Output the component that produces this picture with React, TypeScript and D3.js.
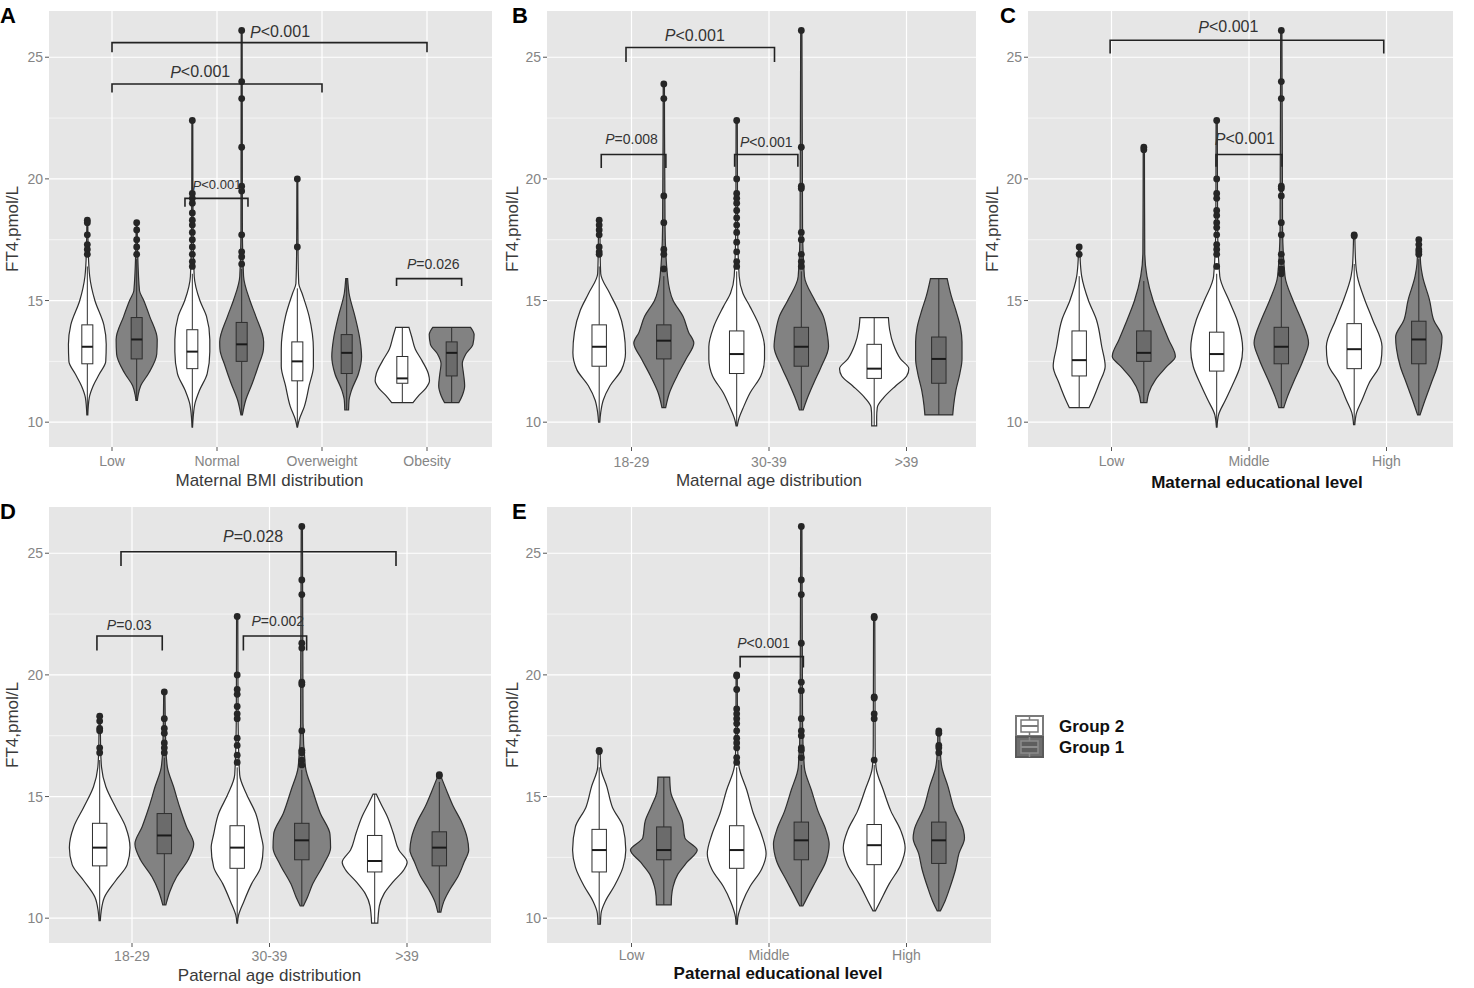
import React from 'react';
import * as d3 from 'd3';

// ---------------- DATA ----------------
const catsA = ['Low', 'Normal', 'Overweight', 'Obesity'];
const catsB = ['18-29', '30-39', '>39'];
const catsC = ['Low', 'Middle', 'High'];
const catsD = ['18-29', '30-39', '>39'];
const catsE = ['Low', 'Middle', 'High'];
const yTicks = [10, 15, 20, 25];
const yMinor = [12.5, 17.5, 22.5];
const groupNames = ['Group 2', 'Group 1'];
const yLabel = 'FT4,pmol/L';
const xTitles = ['Maternal BMI distribution', 'Maternal age distribution', 'Maternal educational level', 'Paternal age distribution', 'Paternal educational level'];
const panelLetters = ['A', 'B', 'C', 'D', 'E'];

// violin density profiles: [FT4 value, relative half-width]
const violinA2: [number, number][][] = [
  [[18.3, 0.02], [17, 0.04], [16, 0.1], [15, 0.32], [14, 0.7], [13.2, 0.8], [12.5, 0.78], [12, 0.52], [11.5, 0.25], [11, 0.08], [10.3, 0.02]],
  [[22.4, 0.02], [18, 0.03], [16, 0.08], [15, 0.32], [14.35, 0.6], [13.4, 0.74], [12.9, 0.74], [12, 0.63], [11.3, 0.3], [10.8, 0.12], [10.25, 0.04], [9.8, 0.01]],
  [[20.0, 0.02], [17, 0.03], [15.7, 0.06], [15.3, 0.2], [14.35, 0.5], [13.0, 0.68], [12.3, 0.68], [11.5, 0.5], [10.65, 0.3], [10.1, 0.08], [9.8, 0.01]],
  [[13.9, 0.28], [13.5, 0.4], [13.0, 0.55], [12.5, 0.85], [12.0, 1.1], [11.7, 1.15], [11.4, 1.0], [11.1, 0.7], [10.8, 0.45]],
];
const violinA1: [number, number][][] = [
  [[18.2, 0.02], [17, 0.04], [15.4, 0.12], [15.0, 0.3], [14.35, 0.55], [13.4, 0.87], [12.8, 0.85], [12.0, 0.5], [11.5, 0.17], [11.1, 0.06], [10.9, 0.03]],
  [[26.1, 0.02], [18, 0.03], [16, 0.08], [15, 0.35], [14.35, 0.6], [13.3, 0.93], [13.0, 0.92], [12.3, 0.7], [11.6, 0.45], [10.9, 0.17], [10.3, 0.03]],
  [[15.9, 0.04], [15.3, 0.1], [14.35, 0.35], [13.4, 0.56], [12.7, 0.63], [12.0, 0.5], [11.3, 0.2], [10.9, 0.1], [10.5, 0.08]],
  [[13.9, 0.8], [13.6, 0.95], [13.2, 0.9], [12.8, 0.6], [12.4, 0.45], [12.0, 0.5], [11.5, 0.55], [11.1, 0.45], [10.8, 0.3]],
];
const violinB2: [number, number][][] = [
  [[18.4, 0.02], [17, 0.03], [16.1, 0.05], [15.3, 0.34], [14.6, 0.61], [13.7, 0.8], [12.85, 0.85], [12.15, 0.72], [11.5, 0.35], [10.9, 0.13], [10.4, 0.05], [10.0, 0.02]],
  [[22.4, 0.02], [18, 0.03], [16, 0.08], [15.3, 0.2], [14.75, 0.43], [13.9, 0.75], [13.1, 0.9], [12.6, 0.9], [11.9, 0.78], [11.2, 0.43], [10.65, 0.23], [10.1, 0.06], [9.85, 0.02]],
  [[14.3, 0.46], [13.8, 0.5], [13.2, 0.62], [12.6, 0.85], [12.2, 1.12], [11.9, 1.05], [11.5, 0.7], [11.0, 0.3], [10.6, 0.1], [10.2, 0.08], [9.85, 0.08]],
];
const violinB1: [number, number][][] = [
  [[23.9, 0.02], [18, 0.04], [16.0, 0.12], [15.0, 0.3], [14.35, 0.62], [13.7, 0.8], [13.25, 0.97], [12.6, 0.72], [11.9, 0.43], [11.2, 0.18], [10.6, 0.06]],
  [[26.1, 0.02], [18, 0.04], [16, 0.1], [15, 0.44], [14.35, 0.71], [13.7, 0.83], [13.1, 0.88], [12.3, 0.65], [11.6, 0.4], [10.9, 0.17], [10.5, 0.06]],
  [[15.9, 0.27], [15.2, 0.4], [14.6, 0.55], [13.9, 0.7], [13.3, 0.75], [12.6, 0.75], [12.0, 0.68], [11.3, 0.55], [10.7, 0.48], [10.3, 0.45]],
];
const violinC2: [number, number][][] = [
  [[17.2, 0.02], [16.5, 0.04], [16, 0.08], [15, 0.3], [14.2, 0.56], [13.1, 0.73], [12.3, 0.84], [11.6, 0.65], [10.9, 0.43], [10.6, 0.32]],
  [[22.4, 0.02], [18, 0.03], [16, 0.1], [15, 0.4], [14.2, 0.66], [13.0, 0.84], [12.3, 0.76], [11.5, 0.5], [10.9, 0.28], [10.3, 0.06], [9.8, 0.01]],
  [[17.7, 0.02], [16.5, 0.05], [16, 0.1], [15, 0.35], [14.2, 0.6], [13.1, 0.9], [12.45, 0.86], [11.6, 0.48], [10.9, 0.25], [10.4, 0.08], [9.9, 0.02]],
];
const violinC1: [number, number][][] = [
  [[21.3, 0.02], [17, 0.03], [16, 0.1], [15, 0.3], [14.2, 0.54], [13.4, 0.8], [12.7, 1.02], [12.3, 0.75], [11.75, 0.38], [11.2, 0.16], [10.8, 0.1]],
  [[26.1, 0.02], [18, 0.04], [16, 0.12], [15, 0.38], [14.2, 0.65], [13.25, 0.88], [12.6, 0.72], [11.75, 0.43], [11.05, 0.2], [10.6, 0.08]],
  [[17.5, 0.03], [16.5, 0.06], [16, 0.12], [15, 0.35], [14.2, 0.48], [13.5, 0.75], [13.0, 0.72], [12.3, 0.6], [11.6, 0.4], [10.9, 0.2], [10.3, 0.04]],
];
const violinD2: [number, number][][] = [
  [[18.3, 0.02], [17, 0.03], [16.2, 0.06], [15.4, 0.2], [14.55, 0.52], [13.75, 0.84], [12.9, 0.98], [12.2, 0.89], [11.55, 0.52], [10.85, 0.15], [10.3, 0.05], [9.9, 0.02]],
  [[22.4, 0.02], [18, 0.03], [15.9, 0.08], [15.1, 0.3], [14.3, 0.6], [13.45, 0.76], [12.9, 0.84], [12.1, 0.76], [11.4, 0.46], [10.7, 0.22], [10.1, 0.04], [9.8, 0.01]],
  [[15.1, 0.05], [14.7, 0.2], [14.2, 0.4], [13.5, 0.6], [12.8, 0.78], [12.3, 1.05], [12.0, 0.95], [11.5, 0.6], [11.0, 0.3], [10.5, 0.15], [9.8, 0.1]],
];
const violinD1: [number, number][][] = [
  [[19.3, 0.02], [17, 0.05], [16.2, 0.1], [15.4, 0.3], [14.55, 0.5], [13.75, 0.72], [13.05, 0.95], [12.4, 0.77], [11.7, 0.4], [11.1, 0.18], [10.55, 0.05]],
  [[26.1, 0.02], [18, 0.04], [16.2, 0.12], [15.25, 0.35], [14.3, 0.6], [13.45, 0.91], [12.9, 0.93], [12.2, 0.7], [11.4, 0.35], [10.85, 0.18], [10.5, 0.05]],
  [[15.9, 0.03], [15.2, 0.25], [14.6, 0.45], [14.0, 0.7], [13.3, 0.9], [12.8, 0.95], [12.3, 0.8], [11.7, 0.6], [11.2, 0.35], [10.7, 0.15], [10.25, 0.05]],
];
const violinE2: [number, number][][] = [
  [[16.9, 0.03], [16.2, 0.05], [15.4, 0.25], [14.55, 0.43], [13.75, 0.77], [12.8, 0.86], [12.1, 0.77], [11.3, 0.48], [10.7, 0.2], [10.2, 0.06], [9.75, 0.04]],
  [[20.0, 0.02], [17, 0.03], [16.2, 0.08], [15.25, 0.33], [14.3, 0.54], [13.45, 0.8], [12.65, 0.95], [12.0, 0.8], [11.3, 0.43], [10.7, 0.2], [10.05, 0.04], [9.75, 0.02]],
  [[22.4, 0.02], [17, 0.03], [16.2, 0.06], [15.25, 0.3], [14.4, 0.54], [13.6, 0.86], [12.9, 1.0], [12.2, 0.86], [11.4, 0.48], [10.7, 0.2], [10.3, 0.04]],
];
const violinE1: [number, number][][] = [
  [[15.8, 0.19], [15.2, 0.22], [14.6, 0.4], [14.0, 0.6], [13.3, 0.68], [12.8, 1.08], [12.3, 0.75], [11.8, 0.45], [11.3, 0.3], [10.9, 0.25], [10.55, 0.24]],
  [[26.1, 0.02], [18, 0.04], [16.2, 0.1], [15.25, 0.33], [14.4, 0.54], [13.6, 0.8], [13.05, 0.9], [12.35, 0.8], [11.55, 0.48], [11.0, 0.25], [10.5, 0.05]],
  [[17.7, 0.03], [16.8, 0.05], [16.2, 0.1], [15.4, 0.3], [14.55, 0.48], [13.6, 0.8], [13.3, 0.83], [12.65, 0.65], [12.0, 0.54], [11.3, 0.37], [10.7, 0.2], [10.3, 0.05]],
];

// boxplots: [lower whisker, Q1, median, Q3, upper whisker]
const boxA2 = [[10.3, 12.4, 13.1, 14.0, 16.4], [9.8, 12.2, 12.9, 13.8, 16.1], [9.8, 11.7, 12.5, 13.3, 15.5], [10.8, 11.6, 11.8, 12.7, 13.9]];
const boxA1 = [[10.9, 12.6, 13.4, 14.3, 16.7], [10.3, 12.5, 13.2, 14.1, 16.3], [10.5, 12.0, 12.85, 13.6, 15.9], [10.8, 11.9, 12.85, 13.3, 13.9]];
const boxB2 = [[10.0, 12.3, 13.1, 14.0, 16.4], [9.85, 12.0, 12.8, 13.75, 16.2], [9.85, 11.8, 12.2, 13.2, 14.3]];
const boxB1 = [[10.6, 12.6, 13.35, 14.0, 16.0], [10.5, 12.3, 13.1, 13.9, 16.2], [10.3, 11.6, 12.6, 13.5, 15.9]];
const boxC2 = [[10.6, 11.9, 12.55, 13.75, 16.0], [9.8, 12.1, 12.8, 13.7, 16.1], [9.9, 12.2, 13.0, 14.05, 16.5]];
const boxC1 = [[10.8, 12.5, 12.85, 13.75, 15.8], [10.6, 12.4, 13.1, 13.9, 16.0], [10.3, 12.4, 13.4, 14.15, 16.7]];
const boxD2 = [[9.9, 12.15, 12.9, 13.9, 16.5], [9.8, 12.05, 12.9, 13.8, 16.2], [9.8, 11.9, 12.35, 13.4, 15.1]];
const boxD1 = [[10.55, 12.65, 13.4, 14.3, 16.6], [10.5, 12.4, 13.2, 13.9, 16.1], [10.25, 12.15, 12.9, 13.55, 15.6]];
const boxE2 = [[9.75, 11.9, 12.8, 13.65, 16.2], [9.75, 12.05, 12.8, 13.8, 16.2], [10.3, 12.2, 13.0, 13.85, 16.3]];
const boxE1 = [[10.55, 12.4, 12.8, 13.75, 15.8], [10.5, 12.4, 13.2, 13.95, 16.3], [10.3, 12.25, 13.2, 13.95, 16.5]];

// outliers
const outA2 = [[18.3, 18.2, 17.7, 17.3, 17.1, 16.9], [22.4, 19.4, 19.2, 19.0, 18.6, 18.3, 18.1, 17.8, 17.5, 17.2, 16.9, 16.6, 16.4], [20.0, 17.2], []];
const outA1 = [[18.2, 17.9, 17.5, 17.2, 16.9], [26.1, 24.0, 23.3, 21.3, 19.7, 19.5, 17.7, 17.0, 16.8, 16.5], [], []];
const outB2 = [[18.3, 18.1, 17.9, 17.7, 17.2, 17.0, 16.9], [22.4, 20.0, 19.4, 19.2, 19.0, 18.7, 18.4, 18.1, 17.8, 17.4, 17.0, 16.6, 16.4], []];
const outB1 = [[23.9, 23.3, 19.3, 18.2, 17.1, 16.9, 16.3], [26.1, 21.3, 19.7, 19.6, 17.8, 17.5, 16.9, 16.6, 16.4], []];
const outC2 = [[17.2, 16.9], [22.4, 20.0, 19.4, 19.2, 18.7, 18.5, 18.2, 18.0, 17.7, 17.3, 17.1, 16.9, 16.4], [17.7, 17.65]];
const outC1 = [[21.3, 21.2], [26.1, 24.0, 23.3, 19.7, 19.6, 19.3, 18.2, 17.7, 16.9, 16.6, 16.3, 16.1], [17.5, 17.3, 17.1, 17.0, 16.9]];
const outD2 = [[18.3, 18.1, 17.8, 17.7, 17.0, 16.8], [22.4, 20.0, 19.4, 19.2, 18.7, 18.4, 18.2, 17.4, 17.1, 16.7, 16.4], []];
const outD1 = [[19.3, 18.2, 17.8, 17.6, 17.2, 17.0, 16.8], [26.1, 23.9, 23.3, 21.3, 21.1, 19.7, 19.6, 17.7, 16.9, 16.8, 16.5, 16.3], [15.9, 15.85]];
const outE2 = [[16.9, 16.85], [20.0, 19.95, 19.4, 18.6, 18.4, 18.2, 18.0, 17.7, 17.4, 17.2, 17.0, 16.6, 16.4], [22.4, 22.35, 19.1, 19.05, 18.4, 18.2, 16.5]];
const outE1 = [[], [26.1, 23.9, 23.3, 21.3, 19.7, 19.35, 18.2, 17.7, 17.5, 17.0, 16.9, 16.6], [17.7, 17.6, 17.1, 17.0, 16.8]];

// significance brackets: [x1, x2 (category units), bar value, leg-end value, label x, label y, label]
type Br = [number, number, number, number, number, number, string];
const brA: Br[] = [
  [1.0, 4.0, 25.6, 25.2, 2.6, 26.05, '<0.001'],
  [1.0, 3.0, 23.9, 23.55, 1.84, 24.4, '<0.001'],
  [1.695, 2.295, 19.2, 18.85, 2.0, 19.75, '<0.001'],
  [3.71, 4.33, 15.9, 15.6, 4.06, 16.5, '=0.026'],
];
const brB: Br[] = [
  [0.96, 2.04, 25.4, 24.8, 1.46, 25.9, '<0.001'],
  [0.78, 1.25, 21.0, 20.45, 1.0, 21.65, '=0.008'],
  [1.75, 2.21, 21.0, 20.5, 1.98, 21.5, '<0.001'],
];
const brC: Br[] = [
  [0.99, 2.98, 25.7, 25.15, 1.85, 26.25, '<0.001'],
  [1.76, 2.24, 21.0, 20.5, 1.97, 21.65, '<0.001'],
];
const brD: Br[] = [
  [0.92, 2.92, 25.06, 24.47, 1.88, 25.7, '=0.028'],
  [0.745, 1.22, 21.6, 21.0, 0.98, 22.05, '=0.03'],
  [1.81, 2.27, 21.6, 21.0, 2.06, 22.2, '=0.002'],
];
const brE: Br[] = [
  [1.79, 2.25, 20.75, 20.3, 1.96, 21.3, '<0.001'],
];

// ---------------- LAYOUT / STYLE ----------------
const FONT = 'Liberation Sans, Arial, Helvetica, sans-serif';
const Y_DOMAIN: [number, number] = [8.98, 26.9];
const DODGE = 0.235;
const VIOLIN_HALF = 0.225;
const BOX_W = 0.105;
const COL = {
  bg: '#e6e6e6', grid: '#ffffff', line: '#2e2e2e', g2: '#ffffff', g1: '#828282', box1: '#6b6b6b',
  tick: '#858585', title: '#3a3a3a', point: '#262626',
};

type PanelCfg = {
  cats: string[]; v2: [number, number][][]; v1: [number, number][][]; b2: number[][]; b1: number[][];
  o2: number[][]; o1: number[][]; br: Br[]; brFont: number[];
  xr: [number, number]; rect: [number, number]; yr: [number, number];
  letter: [number, number]; yTitleX: number; tickY: number; titleY: number; titleX?: number; bold: boolean;
};

const panels: PanelCfg[] = [
  { cats: catsA, v2: violinA2, v1: violinA1, b2: boxA2, b1: boxA1, o2: outA2, o1: outA1, br: brA, brFont: [16, 16, 13, 14],
    xr: [49, 490], rect: [49, 492], yr: [447, 11], letter: [0, 23], yTitleX: 12, tickY: 466, titleY: 486, bold: false },
  { cats: catsB, v2: violinB2, v1: violinB1, b2: boxB2, b1: boxB1, o2: outB2, o1: outB1, br: brB, brFont: [16, 14, 14],
    xr: [549, 989], rect: [547, 976], yr: [447, 11], letter: [512, 23], yTitleX: 512, tickY: 467, titleY: 486, bold: false },
  { cats: catsC, v2: violinC2, v1: violinC1, b2: boxC2, b1: boxC1, o2: outC2, o1: outC1, br: brC, brFont: [16, 16],
    xr: [1029, 1469], rect: [1028, 1453], yr: [447, 11], letter: [1000, 23], yTitleX: 992, tickY: 466, titleY: 488, titleX: 1257, bold: true },
  { cats: catsD, v2: violinD2, v1: violinD1, b2: boxD2, b1: boxD1, o2: outD2, o1: outD1, br: brD, brFont: [16, 14, 14],
    xr: [49.5, 489.5], rect: [49, 491], yr: [943, 507], letter: [0, 519], yTitleX: 12, tickY: 961, titleY: 981, bold: false },
  { cats: catsE, v2: violinE2, v1: violinE1, b2: boxE2, b1: boxE1, o2: outE2, o1: outE1, br: brE, brFont: [14],
    xr: [549, 989], rect: [547, 991], yr: [943, 507], letter: [512, 519], yTitleX: 512, tickY: 960, titleY: 979, titleX: 778, bold: true },
];

function Panel({ cfg, idx }: { cfg: PanelCfg; idx: number }) {
  const n = cfg.cats.length;
  const x = d3.scaleLinear().domain([0.4, n + 0.6]).range(cfg.xr);
  const y = d3.scaleLinear().domain(Y_DOMAIN).range(cfg.yr);
  const step = x(2) - x(1);
  const half = VIOLIN_HALF * step;
  const bw = BOX_W * step;
  const top = cfg.yr[1];
  const bottom = cfg.yr[0];
  const left = cfg.rect[0];
  const right = cfg.rect[1];
  const cats = d3.range(1, n + 1);

  const area = (cx: number) =>
    d3.area<[number, number]>()
      .y((d) => y(d[0]))
      .x0((d) => cx - d[1] * half)
      .x1((d) => cx + d[1] * half)
      .curve(d3.curveMonotoneY);

  const groupsData = [
    { v: cfg.v2, b: cfg.b2, o: cfg.o2, off: -DODGE, fill: COL.g2, boxFill: '#ffffff' },
    { v: cfg.v1, b: cfg.b1, o: cfg.o1, off: DODGE, fill: COL.g1, boxFill: COL.box1 },
  ];

  const titleX = cfg.titleX ?? (cfg.xr[0] + cfg.xr[1]) / 2;
  const clipId = `clip${idx}`;

  return (
    <g>
      <defs>
        <clipPath id={clipId}>
          <rect x={left} y={top} width={right - left} height={bottom - top} />
        </clipPath>
      </defs>
      <rect x={left} y={top} width={right - left} height={bottom - top} fill={COL.bg} />
      {yMinor.map((t) => (
        <line key={'m' + t} x1={left} x2={right} y1={y(t)} y2={y(t)} stroke={COL.grid} strokeWidth={0.6} />
      ))}
      {yTicks.map((t) => (
        <line key={'g' + t} x1={left} x2={right} y1={y(t)} y2={y(t)} stroke={COL.grid} strokeWidth={1.2} />
      ))}
      {cats.map((c) => (
        <line key={'v' + c} x1={x(c)} x2={x(c)} y1={top} y2={bottom} stroke={COL.grid} strokeWidth={1.2} />
      ))}
      <g clipPath={`url(#${clipId})`}>
        {groupsData.map((g, gi) => (
          <g key={gi}>
            {cats.map((c, i) => {
              const cx = x(c + g.off);
              const [lo, q1, med, q3, hi] = g.b[i];
              return (
                <g key={i}>
                  <path d={area(cx)(g.v[i]) || ''} fill={g.fill} stroke={COL.line} strokeWidth={1.2} />
                  <line x1={cx} x2={cx} y1={y(hi)} y2={y(q3)} stroke={COL.line} strokeWidth={1} />
                  <line x1={cx} x2={cx} y1={y(q1)} y2={y(lo)} stroke={COL.line} strokeWidth={1} />
                  <rect x={cx - bw / 2} y={y(q3)} width={bw} height={y(q1) - y(q3)} fill={g.boxFill} stroke={COL.line} strokeWidth={1} />
                  <line x1={cx - bw / 2} x2={cx + bw / 2} y1={y(med)} y2={y(med)} stroke="#1a1a1a" strokeWidth={2} />
                  {g.o[i].map((v, k) => (
                    <circle key={k} cx={cx} cy={y(v)} r={3.4} fill={COL.point} />
                  ))}
                </g>
              );
            })}
          </g>
        ))}
      </g>
      {cfg.br.map((b, k) => {
        const [x1, x2, yb, yl, lx, ly, lab] = b;
        const path = `M${x(x1)},${y(yl)} L${x(x1)},${y(yb)} L${x(x2)},${y(yb)} L${x(x2)},${y(yl)}`;
        return (
          <g key={'b' + k}>
            <path d={path} fill="none" stroke="#222" strokeWidth={1.6} />
            <text x={x(lx)} y={y(ly)} textAnchor="middle" dominantBaseline="central" fontFamily={FONT}
              fontSize={cfg.brFont[k]} fill="#333">
              <tspan fontStyle="italic">P</tspan>{lab}
            </text>
          </g>
        );
      })}
      {yTicks.map((t) => (
        <g key={'yt' + t}>
          <line x1={left - 4} x2={left} y1={y(t)} y2={y(t)} stroke="#555" strokeWidth={1} />
          <text x={left - 6} y={y(t)} textAnchor="end" dominantBaseline="central" fontFamily={FONT} fontSize={14}
            fill={COL.tick}>{t}</text>
        </g>
      ))}
      {cats.map((c, i) => (
        <g key={'xt' + c}>
          <line x1={x(c)} x2={x(c)} y1={bottom} y2={bottom + 4} stroke="#555" strokeWidth={1} />
          <text x={x(c)} y={cfg.tickY} textAnchor="middle" fontFamily={FONT} fontSize={14} fill={COL.tick}>
            {cfg.cats[i]}
          </text>
        </g>
      ))}
      <text x={titleX} y={cfg.titleY} textAnchor="middle" fontFamily={FONT} fontSize={17}
        fontWeight={cfg.bold ? 'bold' : 'normal'} fill={cfg.bold ? '#111' : COL.title}>
        {xTitles[idx]}
      </text>
      <text transform={`translate(${cfg.yTitleX},${(top + bottom) / 2}) rotate(-90)`} textAnchor="middle"
        dominantBaseline="central" fontFamily={FONT} fontSize={17} fill={COL.title}>
        {yLabel}
      </text>
      <text x={cfg.letter[0]} y={cfg.letter[1]} fontFamily={FONT} fontSize={22} fontWeight="bold" fill="#000">
        {panelLetters[idx]}
      </text>
    </g>
  );
}

function Legend() {
  const kx = 1016;
  const kw = 27;
  const items = [
    { y: 716, fill: '#ffffff', stroke: '#7a7a7a', inner: '#ffffff', innerStroke: '#7a7a7a' },
    { y: 737, fill: '#6e6e6e', stroke: '#5a5a5a', inner: '#5e5e5e', innerStroke: '#8c8c8c' },
  ];
  return (
    <g>
      {items.map((it, i) => (
        <g key={i}>
          <rect x={kx} y={it.y} width={kw} height={20} fill={it.fill} stroke={it.stroke} strokeWidth={2} />
          <rect x={kx + 5} y={it.y + 4} width={kw - 10} height={12} fill={it.inner} stroke={it.innerStroke} strokeWidth={1.5} />
          <line x1={kx + 5} x2={kx + kw - 5} y1={it.y + 10} y2={it.y + 10} stroke={it.innerStroke} strokeWidth={2} />
          <line x1={kx + kw / 2} x2={kx + kw / 2} y1={it.y} y2={it.y + 4} stroke={it.innerStroke} strokeWidth={1.5} />
          <line x1={kx + kw / 2} x2={kx + kw / 2} y1={it.y + 16} y2={it.y + 20} stroke={it.innerStroke} strokeWidth={1.5} />
          <text x={1059} y={it.y + 16} fontFamily={FONT} fontSize={17} fontWeight="bold" fill="#111">
            {groupNames[i]}
          </text>
        </g>
      ))}
    </g>
  );
}

export default function App() {
  return (
    <svg width={1474} height={988} style={{ position: 'absolute', left: 0, top: 0, background: '#fff' }}>
      <rect x={0} y={0} width={1474} height={988} fill="#fff" />
      {panels.map((p, i) => (
        <Panel key={i} cfg={p} idx={i} />
      ))}
      <Legend />
    </svg>
  );
}
